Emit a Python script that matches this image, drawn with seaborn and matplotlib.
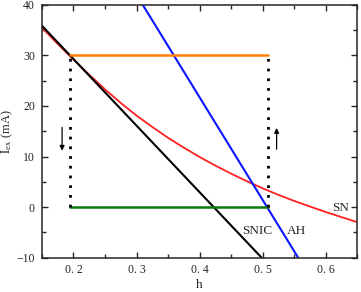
import numpy as np
import pandas as pd
import matplotlib
matplotlib.use('Agg')
import matplotlib.pyplot as plt
import seaborn as sns
from matplotlib.ticker import MultipleLocator

sns.set_style('ticks')
plt.rcParams['font.family'] = ['Liberation Serif', 'DejaVu Serif']
plt.rcParams['mathtext.fontset'] = 'stix'

### data
# SN curve (red)
h_sn = [0.15, 0.175, 0.20, 0.225, 0.25, 0.275, 0.30, 0.325, 0.35, 0.375, 0.40,
        0.425, 0.45, 0.475, 0.50, 0.525, 0.55, 0.575, 0.60, 0.625, 0.65]
i_sn = [35.5, 32.3, 29.2, 26.2, 23.3, 20.6, 18.1, 15.85, 13.7, 11.75, 9.9,
        8.2, 6.6, 5.1, 3.7, 2.4, 1.2, 0.1, -1.0, -2.0, -3.0]
# SNIC line (black)
h_snic = [0.15, 0.498]
i_snic = [35.9, -10]
# AH line (blue)
h_ah = [0.31, 0.556]
i_ah = [40, -10]
# upper / lower branches
h_branch = [0.195, 0.509]
i_upper = [30, 30]
i_lower = [0, 0]
# jumps (dotted)
h_jump = [0.195, 0.509]

fig, ax = plt.subplots(figsize=(3.61, 2.92), dpi=100)
fig.subplots_adjust(left=0.116, right=0.99, top=0.983, bottom=0.118)

sns.lineplot(x=h_sn, y=i_sn, color='#ff2020', lw=1.3, ax=ax, sort=False)
sns.lineplot(x=h_snic, y=i_snic, color='black', lw=1.5, ax=ax, sort=False)
sns.lineplot(x=h_ah, y=i_ah, color='#0a14ff', lw=1.5, ax=ax, sort=False)
sns.lineplot(x=h_branch, y=i_upper, color='#ff8000', lw=1.8, ax=ax)
sns.lineplot(x=h_branch, y=i_lower, color='#0a7a0a', lw=1.8, ax=ax)
for hx in h_jump:
    ax.plot([hx, hx], [i_lower[0], i_upper[0]], color='black', lw=2,
            linestyle=(0, (1, 2.5)))

# arrows
ax.annotate('', xy=(0.182, 10.6), xytext=(0.182, 16.3),
            arrowprops=dict(arrowstyle='-|>', color='black', lw=0.9,
                            mutation_scale=7))
ax.annotate('', xy=(0.522, 16.2), xytext=(0.522, 10.9),
            arrowprops=dict(arrowstyle='-|>', color='black', lw=0.9,
                            mutation_scale=7))

ax.text(0.624, -0.2, 'SN', fontsize=9.5, ha='center', va='center')
ax.text(0.491, -4.7, 'SNIC', fontsize=9.5, ha='center', va='center')
ax.text(0.554, -4.7, 'AH', fontsize=9.5, ha='center', va='center')

ax.set_xlim(0.15, 0.65)
ax.set_ylim(-10, 40)
ax.xaxis.set_major_locator(MultipleLocator(0.1))
ax.xaxis.set_minor_locator(MultipleLocator(0.05))
ax.yaxis.set_major_locator(MultipleLocator(10))
ax.yaxis.set_minor_locator(MultipleLocator(5))
ax.set_xticks([0.2, 0.3, 0.4, 0.5, 0.6])
ax.set_xticklabels(['0. 2', '0. 3', '0. 4', '0. 5', '0. 6'])
ax.set_yticks([-10, 0, 10, 20, 30, 40])
ax.set_yticklabels(['\u221210', '0', '10', '20', '30', '40'])
ax.tick_params(which='both', direction='in', top=True, right=True,
               labelsize=8.5, width=1)
ax.tick_params(axis='x', pad=5)
ax.tick_params(axis='y', pad=5)
ax.tick_params(which='major', length=4)
ax.tick_params(which='minor', length=3)
for s in ax.spines.values():
    s.set_linewidth(1.1)

ax.set_xlabel('h', fontsize=9.5, labelpad=2)
ax.set_ylabel(r'$\mathrm{I_{ex}}$ (mA)', fontsize=9, labelpad=1)

fig.savefig('out.png', dpi=100)
